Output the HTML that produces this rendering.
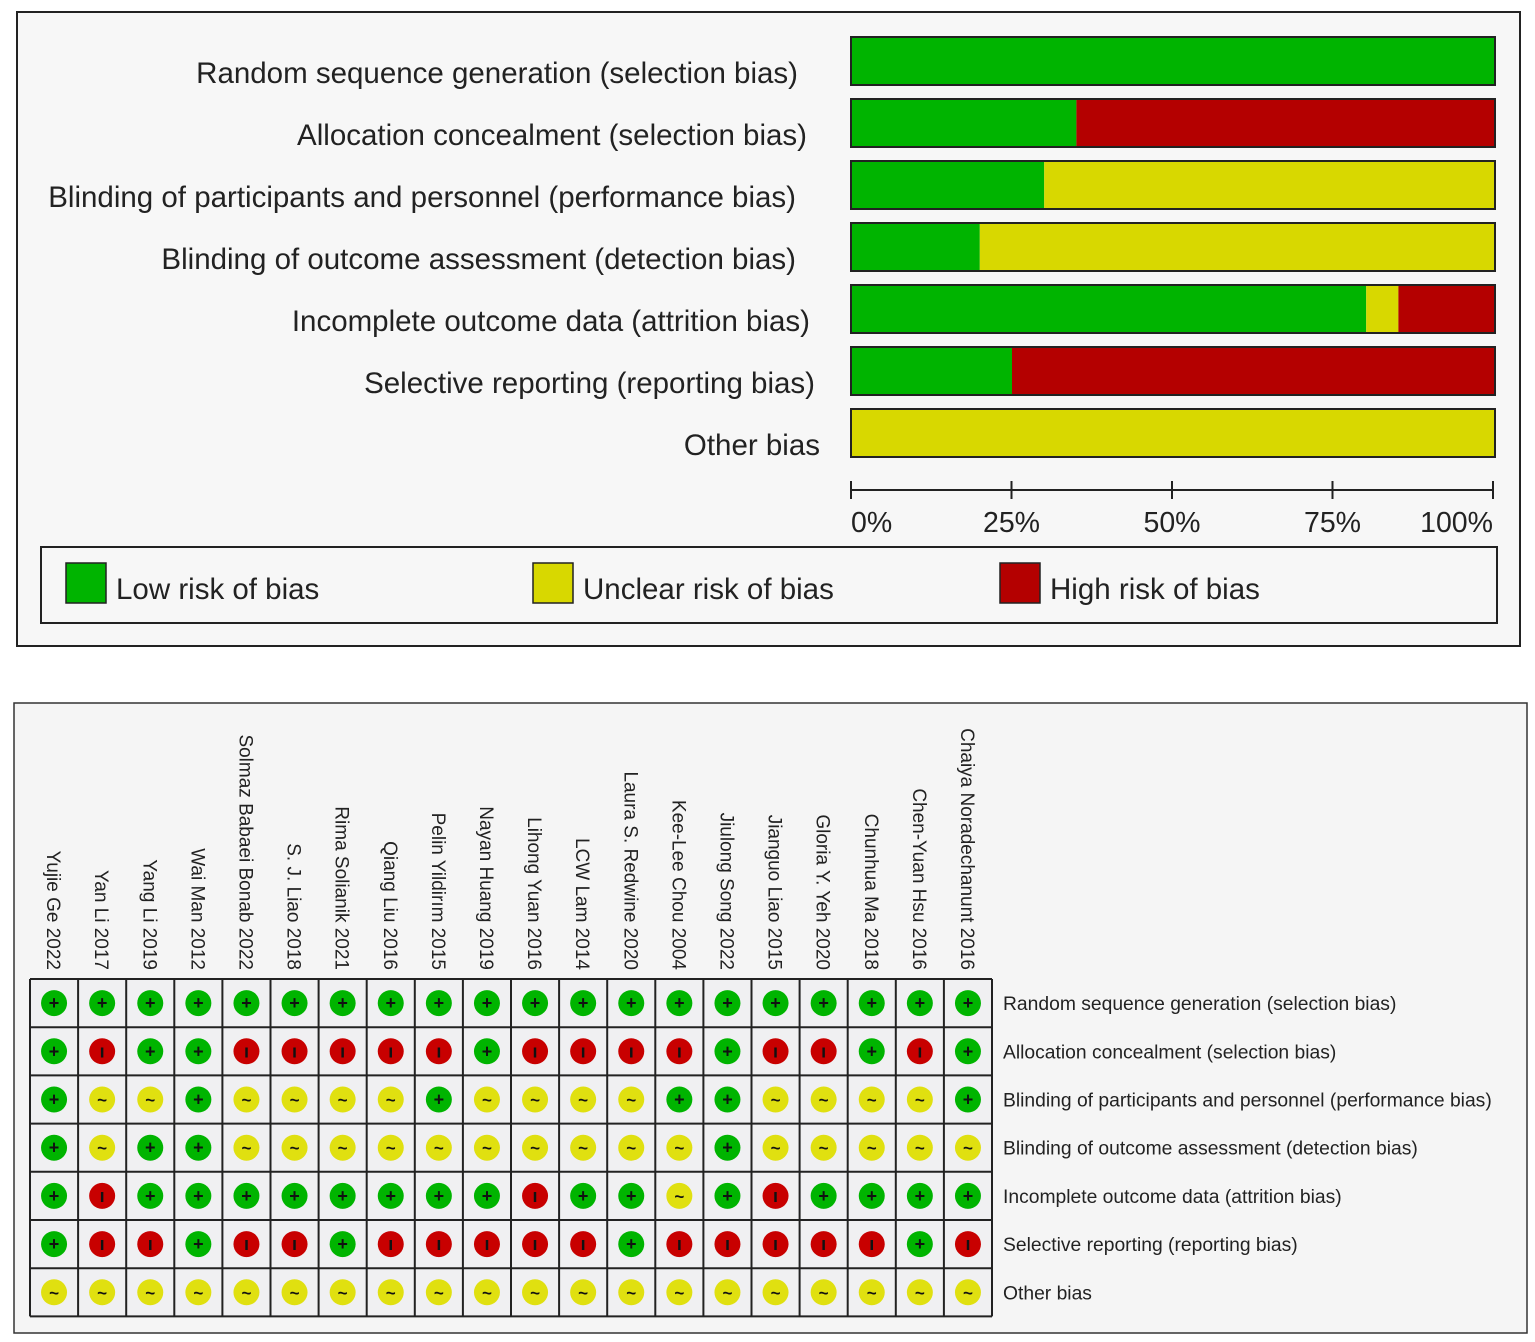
<!DOCTYPE html>
<html><head><meta charset="utf-8"><style>
body{margin:0;background:#fff;}
svg{display:block;font-family:"Liberation Sans",Arial,sans-serif;}
</style></head><body>
<svg id="chart" width="1535" height="1342" viewBox="0 0 1535 1342">
<rect x="17" y="12" width="1503" height="634" fill="#f7f7f7" stroke="#222" stroke-width="2"/>
<rect x="14" y="703" width="1513" height="630" fill="#f5f5f5" stroke="#333" stroke-width="1.5"/>
<g id="topg"></g>
<g id="botg"></g>
</svg>
<script>
const domains=["Random sequence generation (selection bias)","Allocation concealment (selection bias)","Blinding of participants and personnel (performance bias)","Blinding of outcome assessment (detection bias)","Incomplete outcome data (attrition bias)","Selective reporting (reporting bias)","Other bias"];
const lowPct=[100,35,30,20,80,25,0];
const unclearPct=[0,0,70,80,5,0,100];
const highPct=[0,65,0,0,15,75,0];
const tickLabels=["0%","25%","50%","75%","100%"];
const tickVals=[0,25,50,75,100];
const studies=["Yujie Ge 2022","Yan Li 2017","Yang Li 2019","Wai Man 2012","Solmaz Babaei Bonab 2022","S. J. Liao 2018","Rima Solianik 2021","Qiang Liu 2016","Pelin Yildirım 2015","Nayan Huang 2019","Lihong Yuan 2016","LCW Lam 2014","Laura S. Redwine  2020","Kee-Lee Chou 2004","Jiulong Song 2022","Jianguo Liao 2015","Gloria Y. Yeh 2020","Chunhua Ma 2018","Chen-Yuan Hsu 2016","Chaiya Noradechanunt 2016"];
const judgements=[
"++++++++++++++++++++",
"+-++-----+----+--+-+",
"+??+????+????++????+",
"+?++??????????+?????",
"+-++++++++-++?+-++++",
"+--+--+-----+-----+-",
"????????????????????"
];
const COL={low:"#00b400",unc:"#d8d800",high:"#b40000"};
const NS="http://www.w3.org/2000/svg";
function mk(t,a,p){const e=document.createElementNS(NS,t);for(const k in a)e.setAttribute(k,a[k]);p.appendChild(e);return e;}
const topG=document.getElementById('topg');
const x0=851,x1=1495;
const xs=v=>x0+(x1-x0)*v/100;
const rowY=i=>37+i*62;
const labelX=[798,807,796,796,810,815,820];
domains.forEach((d,i)=>{
  const y=rowY(i);
  const t=mk('text',{x:labelX[i],y:y+46,'text-anchor':'end','font-size':29.5,fill:'#222'},topG);
  t.textContent=d;
  
  
  let c=0;
  [[lowPct[i],COL.low],[unclearPct[i],COL.unc],[highPct[i],COL.high]].forEach(([v,col])=>{
    if(v>0){const r=mk('rect',{x:xs(c),y:y,width:xs(c+v)-xs(c),height:48,fill:col},topG);
    
    }
    c+=v;});
  const o=mk('rect',{x:x0,y:y,width:x1-x0,height:48,fill:'none',stroke:'#222','stroke-width':2},topG);
  
  
});
mk('line',{x1:x0-1,x2:x1-1,y1:490,y2:490,stroke:'#222','stroke-width':2},topG);
tickVals.forEach((v,i)=>{
  const x=x0+(1493-x0)*v/100;
  mk('line',{x1:x,x2:x,y1:481,y2:499,stroke:'#222','stroke-width':2},topG);
  const t=mk('text',{x:x,y:532,'text-anchor':i==0?'start':(i==4?'end':'middle'),'font-size':28.5,fill:'#222'},topG);
  t.textContent=tickLabels[i];
  
  
});
const lg=mk('rect',{x:41,y:547,width:1456,height:76,fill:'none',stroke:'#222','stroke-width':2},topG);


[["Low risk of bias",COL.low,66],["Unclear risk of bias",COL.unc,533],["High risk of bias",COL.high,1000]].forEach(([l,c,x])=>{
  const r=mk('rect',{x:x,y:563,width:40,height:40,fill:c,stroke:'#222','stroke-width':1.5},topG);
  
  
  const t=mk('text',{x:x+50,y:599,'font-size':29.5,fill:'#222'},topG);
  t.textContent=l;
  
  
});
const botG=document.getElementById('botg');
const gx=30,gy=979,cw=48.1,ch=48.2;
studies.forEach((s,j)=>{
  const cx=gx+cw*(j+0.5);
  const t=mk('text',{transform:`translate(${cx-7},970) rotate(90)`,'text-anchor':'end','font-size':19,fill:'#222'},botG);
  t.textContent=s;
  
  
});
mk('rect',{x:gx,y:gy,width:cw*20,height:ch*7,fill:'#f0f0f2'},botG);
domains.forEach((d,i)=>{
  const cy=gy+ch*(i+0.5);
  const t=mk('text',{x:1003,y:cy+7,'font-size':19.3,fill:'#222'},botG);
  t.textContent=d;
  
  
  for(let j=0;j<20;j++){
    const cx=gx+cw*(j+0.5);
    const v=judgements[i][j];
    const col=v=='+'?COL.low:(v=='-'?'#c80000':'#e0e010');
    const c=mk('circle',{cx:cx,cy:cy,r:13,fill:col},botG);
    
    
    const g=mk('text',{x:cx,y:cy+6,'text-anchor':'middle','font-size':v=='?'?17:18,'font-weight':'bold',fill:'#111'},botG);
    g.textContent=v=='+'?'+':(v=='-'?'ı':'~');
  }
});
for(let j=0;j<=20;j++)mk('line',{x1:gx+cw*j,x2:gx+cw*j,y1:gy,y2:gy+ch*7,stroke:'#222','stroke-width':2},botG);
for(let i=0;i<=7;i++)mk('line',{x1:gx,x2:gx+cw*20,y1:gy+ch*i,y2:gy+ch*i,stroke:'#222','stroke-width':2},botG);
</script>
</body></html>
